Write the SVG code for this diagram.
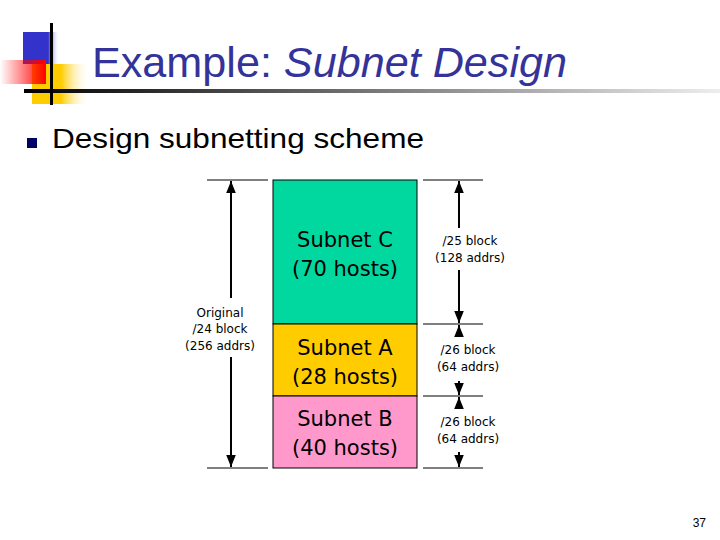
<svg xmlns="http://www.w3.org/2000/svg" width="720" height="540" viewBox="0 0 720 540">
<defs>
<linearGradient id="gb" x1="0" x2="1"><stop offset="0" stop-color="#3333cc"/><stop offset="0.7" stop-color="#3333cc"/><stop offset="1" stop-color="#fff" stop-opacity="0"/></linearGradient>
<linearGradient id="gy" x1="0" x2="1"><stop offset="0" stop-color="#ffcc00"/><stop offset="0.5" stop-color="#ffcc00"/><stop offset="1" stop-color="#fff" stop-opacity="0"/></linearGradient>
<linearGradient id="gr" x1="1" x2="0"><stop offset="0" stop-color="#ff0000"/><stop offset="1" stop-color="#ff0000" stop-opacity="0"/></linearGradient>
<linearGradient id="gl" x1="0" x2="1"><stop offset="0" stop-color="#000"/><stop offset="0.5" stop-color="#777"/><stop offset="1" stop-color="#eee"/></linearGradient>
<marker id="ah" viewBox="0 0 10 10" refX="10" refY="5" markerWidth="6" markerHeight="6" orient="auto-start-reverse"><path d="M0,1 L10,5 L0,9 z" fill="#000"/></marker>
<style>
.t{font-family:"Liberation Sans",Arial,sans-serif}
.box{stroke:#000;stroke-width:1}
.bl{font-family:"DejaVu Sans",Verdana,sans-serif;font-size:21px;text-anchor:middle;fill:#000}
.sl{font-family:"DejaVu Sans",Verdana,sans-serif;font-size:12px;text-anchor:middle;fill:#000}
.ln{stroke:#000;stroke-width:1}
.ar{stroke:#000;stroke-width:2;marker-end:url(#ah)}
</style>
</defs>
<g id="decor">
<rect x="23" y="32" width="36" height="32" fill="url(#gb)"/>
<rect x="32" y="64" width="58" height="40" fill="url(#gy)"/>
<rect x="0" y="60" width="46" height="24" fill="url(#gr)"/>
<rect x="24" y="89" width="696" height="4" fill="url(#gl)"/>
<rect x="50" y="23" width="3" height="82" fill="#000"/>
</g>
<text class="t" x="92" y="77" font-size="42" fill="#333399" textLength="475" lengthAdjust="spacingAndGlyphs">Example: <tspan font-style="italic">Subnet Design</tspan></text>
<rect x="27" y="138" width="10" height="10" fill="#000066"/>
<text class="t" x="52" y="148" font-size="28" fill="#000" textLength="372" lengthAdjust="spacingAndGlyphs">Design subnetting scheme</text>
<g id="subnetC"><rect class="box" x="273" y="180" width="144" height="144" fill="#00d8a0"/><text class="bl" x="345" y="247">Subnet C</text><text class="bl" x="345" y="276">(70 hosts)</text></g>
<g id="subnetA"><rect class="box" x="273" y="324" width="144" height="72" fill="#ffcc00"/><text class="bl" x="345" y="355">Subnet A</text><text class="bl" x="345" y="384">(28 hosts)</text></g>
<g id="subnetB"><rect class="box" x="273" y="396" width="144" height="72" fill="#ff99cc"/><text class="bl" x="345" y="426">Subnet B</text><text class="bl" x="345" y="455">(40 hosts)</text></g>
<g id="connectors">
<line class="ln" x1="207" y1="180" x2="268" y2="180"/><line class="ln" x1="207" y1="468" x2="268" y2="468"/>
<line class="ln" x1="423" y1="180" x2="483" y2="180"/><line class="ln" x1="423" y1="324" x2="483" y2="324"/>
<line class="ln" x1="423" y1="396" x2="483" y2="396"/><line class="ln" x1="423" y1="468" x2="483" y2="468"/>
<line class="ar" x1="231" y1="298" x2="231" y2="181"/><line class="ar" x1="231" y1="357" x2="231" y2="467"/>
<line class="ar" x1="459" y1="228" x2="459" y2="181"/><line class="ar" x1="459" y1="270" x2="459" y2="323"/>
<line class="ar" x1="459" y1="337" x2="459" y2="325"/><line class="ar" x1="459" y1="381" x2="459" y2="395"/>
<line class="ar" x1="459" y1="409" x2="459" y2="397"/><line class="ar" x1="459" y1="452" x2="459" y2="467"/>
</g>
<g id="labels">
<text class="sl" x="220" y="317">Original</text><text class="sl" x="220" y="333">/24 block</text><text class="sl" x="220" y="350">(256 addrs)</text>
<text class="sl" x="470" y="245">/25 block</text><text class="sl" x="470" y="262">(128 addrs)</text>
<text class="sl" x="468" y="354">/26 block</text><text class="sl" x="468" y="371">(64 addrs)</text>
<text class="sl" x="468" y="426">/26 block</text><text class="sl" x="468" y="443">(64 addrs)</text>
</g>
<text class="t" x="706" y="527" font-size="12" text-anchor="end">37</text>
</svg>
